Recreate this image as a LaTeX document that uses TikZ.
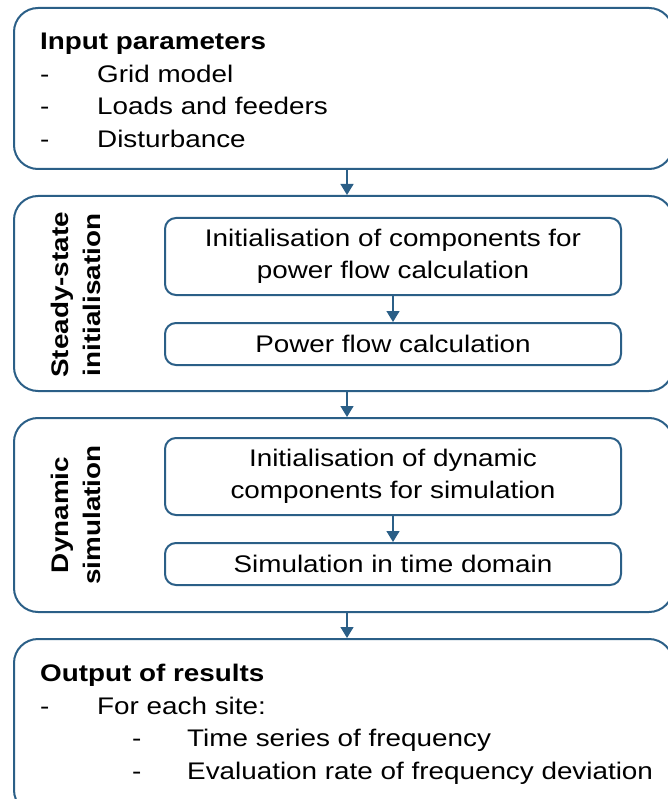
\documentclass[tikz,border=0pt]{standalone}
\usepackage{fontspec}
\setmainfont[FakeStretch = 1.16]{Liberation Sans}
\usepackage{xcolor}
\usetikzlibrary{arrows.meta, positioning}

\definecolor{flowblue}{HTML}{2B5F87}
\tikzset{
  outerbox/.style = {draw = flowblue, line width = 2pt, rounded corners = 24pt,
    anchor = north west, inner sep = 0pt, minimum width = 659pt},
  innerbox/.style = {draw = flowblue, line width = 2pt, rounded corners = 11pt,
    minimum width = 456pt, align = center, inner sep = 0pt, font = \bodyfont},
  flowarrow/.style = {draw = flowblue, line width = 1.3pt,
    -{Triangle[width = 13pt, length = 11pt]}},
  listtext/.style = {anchor = north west, align = left, inner sep = 0pt, font = \bodyfont},
  sidelabel/.style = {rotate = 90, align = center, inner sep = 0pt, font = \bodyfont\bfseries},
}
\newcommand{\bodyfont}{\fontsize{24}{32.5}\selectfont}
\newcommand{\itemA}[1]{\makebox[57pt][l]{-}#1}
\newcommand{\itemB}[1]{\hspace*{92pt}\makebox[55pt][l]{-}#1}

\begin{document}
\begin{tikzpicture}[x = 1pt, y = -1pt]
			\useasboundingbox (0,0) rectangle (668,799);
			\clip (0,0) rectangle (668,799);

			% outer boxes
			\begin{scope}
				\node [outerbox, minimum height = 161pt] (input) at (13,7) {};
				\node [outerbox, minimum height = 195pt] (steady) at (13,195) {};
				\node [outerbox, minimum height = 194pt] (dynamic) at (13,417) {};
				\node [outerbox, minimum height = 175pt] (output) at (13,638) {};
			\end{scope}

			% texts of the outer boxes
			\node [listtext] (inputtxt) at (40,33) {\textbf{Input parameters}\\
				\itemA{Grid model}\\ \itemA{Loads and feeders}\\ \itemA{Disturbance}};
			\node [listtext] (outputtxt) at (40,664) {\textbf{Output of results}\\
				\itemA{For each site:}\\ \itemB{Time series of frequency}\\
				\itemB{Evaluation rate of frequency deviation}};
			\node [sidelabel] (steadylbl) at (76,295) {Steady-state\\initialisation};
			\node [sidelabel] (dynlbl) at (76,515) {Dynamic\\simulation};

			% inner boxes
			\begin{scope}
				\node [innerbox, minimum height = 77pt] (initpf) at (393,256.5)
					{Initialisation of components for\\power flow calculation};
				\node [innerbox, minimum height = 42pt] (pf) at (393,344) {Power flow calculation};
				\node [innerbox, minimum height = 77pt] (initdyn) at (393,476.5)
					{Initialisation of dynamic\\components for simulation};
				\node [innerbox, minimum height = 42pt] (sim) at (393,564) {Simulation in time domain};
			\end{scope}

			% arrows
			\begin{scope}[flowarrow]
				\draw ([xshift = 3.5pt]input.south) -- ([xshift = 3.5pt]steady.north);
				\draw ([xshift = 3.5pt]steady.south) -- ([xshift = 3.5pt]dynamic.north);
				\draw ([xshift = 3.5pt]dynamic.south) -- ([xshift = 3.5pt]output.north);
				\draw (initpf) -- (pf);
				\draw (initdyn) -- (sim);
			\end{scope}
		\end{tikzpicture}
\end{document}
